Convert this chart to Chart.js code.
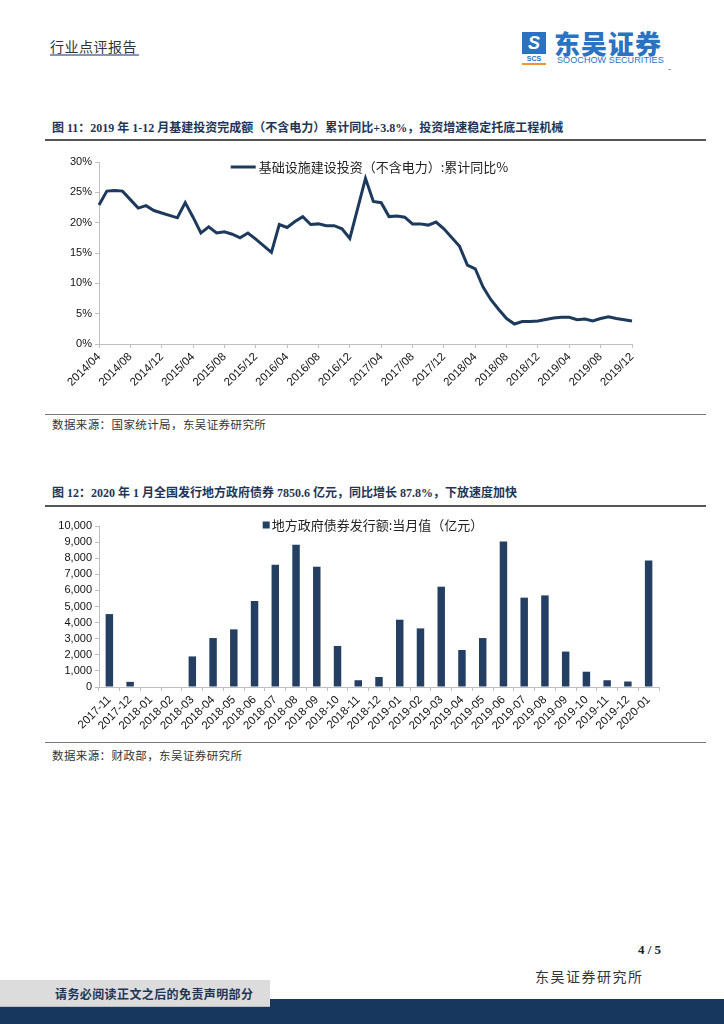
<!DOCTYPE html>
<html>
<head>
<meta charset="utf-8">
<script src="https://cdn.jsdelivr.net/npm/chart.js@4.4.1/dist/chart.umd.min.js"></script>
<style>
  html, body { margin: 0; padding: 0; background: #fff; }
  body { width: 724px; height: 1024px; position: relative; overflow: hidden; font-family: "Noto Sans CJK SC", sans-serif; color: #222; }
  .abs { position: absolute; }
  .hdr { left: 50px; top: 36px; font-size: 14px; color: #333; letter-spacing: 0.5px; }
  .hdr-line { left: 50px; top: 54px; width: 89px; height: 2px; background: #8496b0; }
  .logo-icon { left: 522px; top: 32px; width: 24px; height: 22px; background: #2a72c2; color: #fff; font: bold 18px/22px "Liberation Sans", sans-serif; text-align: center; font-style: italic; }
  .logo-scs { left: 522px; top: 54px; width: 24px; font: bold 7px/9px "Liberation Sans", sans-serif; color: #2a72c2; text-align: center; border-bottom: 2px solid #f0962e; }
  .logo-cn { left: 554px; top: 28px; font-size: 26px; font-weight: 900; color: #2a72c2; line-height: 30px; letter-spacing: 1px; }
  .logo-en { left: 557px; top: 55px; font: 9px/10px "Liberation Sans", sans-serif; color: #2a72c2; letter-spacing: 0.1px; }
  .title { left: 52px; font-family: "Liberation Serif", "Noto Sans CJK SC", serif; font-weight: bold; font-size: 12px; line-height: 16px; color: #1f3557; }
  .rule { left: 45px; width: 661px; }
  .src { left: 52px; font-size: 11.5px; line-height: 14px; color: #333; letter-spacing: 0.4px; }
  .cv { left: 45px; width: 660px; }
</style>
</head>
<body>
<div class="abs hdr">行业点评报告</div>
<div class="abs hdr-line"></div>
<div class="abs logo-icon">S</div>
<div class="abs logo-scs">SCS</div>
<div class="abs logo-cn">东吴证券</div>
<div class="abs logo-en">SOOCHOW SECURITIES</div>
<div class="abs" style="left:668px;top:62px;font-size:9px;color:#555;">-</div>

<div class="abs title" style="top:120px;">图 11：2019 年 1-12 月基建投资完成额（不含电力）累计同比+3.8%，投资增速稳定托底工程机械</div>
<div class="abs rule" style="top:139px;height:2px;background:#555;"></div>
<div class="abs cv" style="top:145px;height:265px;"><canvas id="lineChart"></canvas></div>
<div class="abs rule" style="top:414px;height:1px;background:#777;"></div>
<div class="abs src" style="top:417px;">数据来源：国家统计局，东吴证券研究所</div>

<div class="abs title" style="top:485px;">图 12：2020 年 1 月全国发行地方政府债券 7850.6 亿元，同比增长 87.8%，下放速度加快</div>
<div class="abs rule" style="top:505px;height:2px;background:#555;"></div>
<div class="abs cv" style="top:510px;height:235px;"><canvas id="barChart"></canvas></div>
<div class="abs rule" style="top:742px;height:1px;background:#777;"></div>
<div class="abs src" style="top:748px;">数据来源：财政部，东吴证券研究所</div>

<div class="abs" style="left:638px;top:942px;font:bold 13px 'Liberation Serif',serif;color:#222;">4 / 5</div>
<div class="abs" style="left:535px;top:966px;font-size:14px;letter-spacing:1.5px;color:#333;">东吴证券研究所</div>
<div class="abs" style="left:0;top:999px;width:724px;height:25px;background:#17375e;"></div>
<div class="abs" style="left:0;top:980px;width:270px;height:26px;background:#dcdcdc;border-bottom:1px solid #bbb;"></div>
<div class="abs" style="left:55px;top:985px;font-size:12px;font-weight:bold;color:#1f3557;letter-spacing:0.4px;">请务必阅读正文之后的免责声明部分</div>

<script>
// ---- Figure 11: infrastructure investment (excl. power), cumulative YoY %
const startYear = 2014, startMonth = 4, endYear = 2019, endMonth = 12;
const monthLabels = [];
for (let y = startYear, m = startMonth; y < endYear || (y === endYear && m <= endMonth); m++) {
  if (m > 12) { m = 1; y++; }
  monthLabels.push(y + "/" + String(m).padStart(2, "0"));
}
// January figures are not published (Jan-Feb combined), so those are null
const infraYoY = [
  22.9, 25.2, 25.3, 25.2, 23.8, 22.4, 22.8, 22.0, 21.6,                 // 2014/04-12
  null, 20.8, 23.3, 20.9, 18.3, 19.3, 18.3, 18.5, 18.1, 17.5, 18.3, 17.3, // 2015
  null, 15.1, 19.7, 19.2, 20.2, 21.0, 19.7, 19.8, 19.5, 19.5, 19.0, 17.4, // 2016
  null, 27.3, 23.5, 23.3, 21.0, 21.1, 20.9, 19.8, 19.8, 19.6, 20.1, 19.0, // 2017
  null, 16.1, 13.0, 12.4, 9.4, 7.3, 5.7, 4.2, 3.3, 3.7, 3.7, 3.8,        // 2018
  null, 4.3, 4.4, 4.4, 4.0, 4.1, 3.8, 4.2, 4.5, 4.2, 4.0, 3.8            // 2019
];
const yTicksPct = [0, 5, 10, 15, 20, 25, 30];

// ---- Figure 12: local government bond issuance, monthly (100m yuan)
const bondMonths = ["2017-11", "2017-12", "2018-01", "2018-02", "2018-03", "2018-04", "2018-05",
  "2018-06", "2018-07", "2018-08", "2018-09", "2018-10", "2018-11", "2018-12", "2019-01",
  "2019-02", "2019-03", "2019-04", "2019-05", "2019-06", "2019-07", "2019-08", "2019-09",
  "2019-10", "2019-11", "2019-12", "2020-01"];
const bondIssued = [4530, 320, 0, 0, 1900, 3040, 3580, 5340, 7600, 8840, 7470, 2550, 420, 620,
  4180, 3640, 6230, 2300, 3040, 9040, 5550, 5690, 2200, 950, 420, 340, 7850.6];

const navy = "#1d3a5c";
const axisGrey = "#bfbfbf";
const tickFont = { family: "'Liberation Sans', Arial, sans-serif", size: 11 };
const xFont = { family: "'Liberation Sans', Arial, sans-serif", size: 11.5 };

// legend drawn inside the plot, centred near the top (Excel style)
const topLegend = {
  id: "topLegend",
  afterDraw(chart, args, opts) {
    const { ctx, chartArea } = chart;
    const ds = chart.data.datasets[0];
    ctx.save();
    ctx.font = "13px 'Noto Sans CJK SC', sans-serif";
    const tw = ctx.measureText(ds.label).width;
    const total = opts.markW + opts.gap + tw;
    const x0 = (chartArea.left + chartArea.right) / 2 - total / 2 + opts.shift;
    const y = chartArea.top + opts.dy;
    if (opts.marker === "line") {
      ctx.strokeStyle = ds.borderColor;
      ctx.lineWidth = 3;
      ctx.beginPath();
      ctx.moveTo(x0, y);
      ctx.lineTo(x0 + opts.markW, y);
      ctx.stroke();
    } else {
      ctx.fillStyle = ds.backgroundColor;
      ctx.fillRect(x0, y - opts.markW / 2, opts.markW, opts.markW);
    }
    ctx.fillStyle = "#222";
    ctx.textBaseline = "middle";
    ctx.fillText(ds.label, x0 + opts.markW + opts.gap, y);
    ctx.restore();
  }
};

new Chart(document.getElementById("lineChart"), {
  type: "line",
  data: {
    labels: monthLabels,
    datasets: [{
      label: "基础设施建设投资（不含电力）:累计同比%",
      data: infraYoY,
      borderColor: navy,
      backgroundColor: navy,
      borderWidth: 3,
      pointRadius: 0,
      spanGaps: true,
      tension: 0
    }]
  },
  plugins: [topLegend],
  options: {
    responsive: true,
    maintainAspectRatio: false,
    animation: false,
    layout: { padding: { top: 17, right: 73, left: 0, bottom: 0 } },
    plugins: {
      tooltip: { enabled: false },
      legend: { display: false },
      topLegend: { marker: "line", markW: 25, gap: 3, shift: 4, dy: 5 }
    },
    scales: {
      x: {
        grid: { display: true, drawOnChartArea: false, drawTicks: true, tickLength: 4, color: axisGrey },
        border: { color: axisGrey, width: 1 },
        afterFit: (s) => { s.height = 66; },
        ticks: {
          autoSkip: false,
          maxRotation: 45,
          minRotation: 45,
          color: "#111",
          font: xFont,
          padding: 2,
          callback: (v, i) => (i % 4 === 0 ? monthLabels[i] : null)
        }
      },
      y: {
        min: yTicksPct[0],
        max: yTicksPct[yTicksPct.length - 1],
        afterFit: (s) => { s.width = 54; },
        grid: { display: true, drawOnChartArea: false, drawTicks: true, tickLength: 4, color: axisGrey },
        border: { color: axisGrey, width: 1 },
        ticks: { stepSize: 5, autoSkip: false, color: "#111", font: tickFont, padding: 3, callback: (v) => v + "%" }
      }
    }
  }
});

new Chart(document.getElementById("barChart"), {
  type: "bar",
  data: {
    labels: bondMonths,
    datasets: [{
      label: "地方政府债券发行额:当月值（亿元）",
      data: bondIssued,
      backgroundColor: "#243f62",
      borderColor: "#243f62",
      borderWidth: 0,
      categoryPercentage: 1,
      barPercentage: 0.36
    }]
  },
  plugins: [topLegend],
  options: {
    responsive: true,
    maintainAspectRatio: false,
    animation: false,
    layout: { padding: { top: 16, right: 46, left: 0, bottom: 0 } },
    plugins: {
      tooltip: { enabled: false },
      legend: { display: false },
      topLegend: { marker: "box", markW: 7, gap: 2, shift: -6, dy: -1 }
    },
    scales: {
      x: {
        grid: { display: true, drawOnChartArea: false, drawTicks: true, tickLength: 4, color: axisGrey, offset: true },
        border: { color: axisGrey, width: 1 },
        afterFit: (s) => { s.height = 58; },
        ticks: { autoSkip: false, maxRotation: 45, minRotation: 45, color: "#111", font: xFont, padding: 2 }
      },
      y: {
        min: 0,
        max: 10000,
        afterFit: (s) => { s.width = 54; },
        grid: { display: true, drawOnChartArea: false, drawTicks: true, tickLength: 4, color: axisGrey },
        border: { color: axisGrey, width: 1 },
        ticks: { stepSize: 1000, autoSkip: false, color: "#111", font: tickFont, padding: 3, callback: (v) => v.toLocaleString("en-US") }
      }
    }
  }
});
</script>
</body>
</html>
